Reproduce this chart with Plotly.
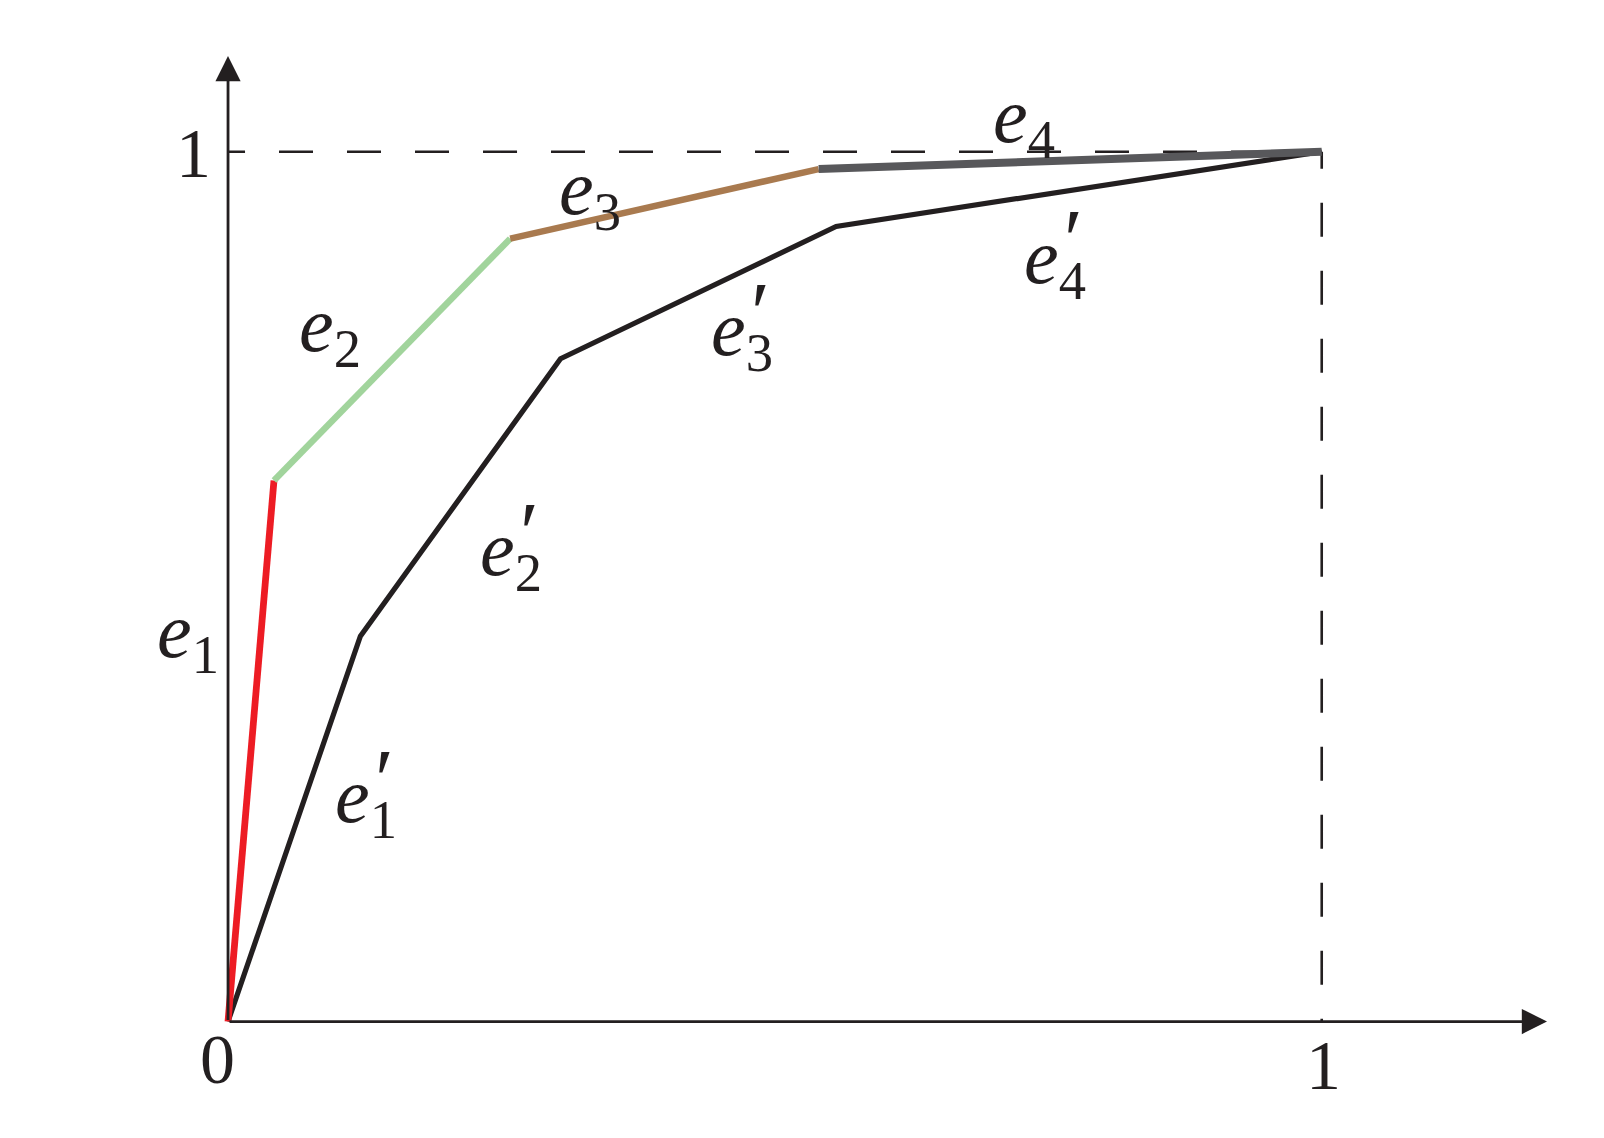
import plotly.graph_objects as go

# ---- data ----
upper_x = [0.0, 0.042, 0.258, 0.540, 1.0]
upper_y = [0.0, 0.622, 0.900, 0.980, 1.0]
upper_colors = ["#ED1C24", "#A1D49C", "#A97A4F", "#58585B"]
upper_widths = [6.8, 6.5, 6.5, 8]

lower_x = [0.0, 0.121, 0.304, 0.556, 1.0]
lower_y = [0.0, 0.443, 0.762, 0.914, 1.0]

edge_subs = ["1", "2", "3", "4"]
edge_label_x = [-0.037, 0.093, 0.331, 0.728]
edge_label_y = [0.443, 0.795, 0.952, 1.035]

prime_subs = ["1", "2", "3", "4"]
prime_label_x = [0.126, 0.259, 0.470, 0.756]
prime_label_y = [0.253, 0.537, 0.790, 0.873]

tick_text = ["0", "1", "1"]
tick_x = [-0.010, 1.002, -0.032]
tick_y = [-0.044, -0.050, 0.998]

x_axis_end = 1.206
y_axis_end = 1.110

INK = "#231F20"
FONT = "Liberation Serif"

fig = go.Figure()

# dashed guide lines
dash = "17px,34px,17px,0px"
fig.add_trace(go.Scatter(x=[0, 1], y=[1, 1], mode="lines",
                         line=dict(color=INK, width=2.6, dash=dash),
                         hoverinfo="skip", showlegend=False))
fig.add_trace(go.Scatter(x=[1, 1], y=[1, 0], mode="lines",
                         line=dict(color=INK, width=2.6, dash=dash),
                         hoverinfo="skip", showlegend=False))

# lower (black) polyline
fig.add_trace(go.Scatter(x=lower_x, y=lower_y, mode="lines",
                         line=dict(color=INK, width=5.2),
                         hoverinfo="skip", showlegend=False))

# upper coloured segments
for i in range(len(upper_colors)):
    fig.add_trace(go.Scatter(x=upper_x[i:i + 2], y=upper_y[i:i + 2], mode="lines",
                             line=dict(color=upper_colors[i], width=upper_widths[i]),
                             hoverinfo="skip", showlegend=False))

annotations = []
# axes with arrow heads
annotations.append(dict(x=x_axis_end, y=0, ax=0, ay=0, xref="x", yref="y",
                        axref="x", ayref="y", text="", showarrow=True,
                        arrowhead=2, arrowsize=1.8, arrowwidth=2.8,
                        arrowcolor=INK, standoff=0))
annotations.append(dict(x=0, y=y_axis_end, ax=0, ay=0, xref="x", yref="y",
                        axref="x", ayref="y", text="", showarrow=True,
                        arrowhead=2, arrowsize=1.8, arrowwidth=2.8,
                        arrowcolor=INK, standoff=0))

for s, x, y in zip(edge_subs, edge_label_x, edge_label_y):
    annotations.append(dict(x=x, y=y, xref="x", yref="y", text="<i>e</i><sub>" + s + "</sub>",
                            showarrow=False, xanchor="center", yanchor="middle",
                            font=dict(family=FONT, size=78, color=INK)))
for s, x, y in zip(prime_subs, prime_label_x, prime_label_y):
    annotations.append(dict(x=x, y=y, xref="x", yref="y", text="<i>e</i><sub>" + s + "</sub>",
                            showarrow=False, xanchor="center", yanchor="middle",
                            font=dict(family=FONT, size=78, color=INK)))
    annotations.append(dict(x=x + 0.017, y=y + 0.025, xref="x", yref="y", text="′",
                            showarrow=False, xanchor="center", yanchor="middle",
                            font=dict(family=FONT, size=86, color=INK)))

for t, x, y in zip(tick_text, tick_x, tick_y):
    annotations.append(dict(x=x, y=y, xref="x", yref="y", text=t,
                            showarrow=False, xanchor="center", yanchor="middle",
                            font=dict(family=FONT, size=70, color=INK)))

fig.update_layout(
    width=1604, height=1138,
    margin=dict(l=0, r=0, t=0, b=0),
    paper_bgcolor="white", plot_bgcolor="white",
    xaxis=dict(range=[-0.2085, 1.2581], visible=False, fixedrange=True),
    yaxis=dict(range=[-0.1339, 1.1744], visible=False, fixedrange=True),
    annotations=annotations,
    showlegend=False,
)

fig.write_html("out.html", config={"displayModeBar": False},
               post_script="document.body.style.margin='0';document.body.style.overflow='hidden';")
